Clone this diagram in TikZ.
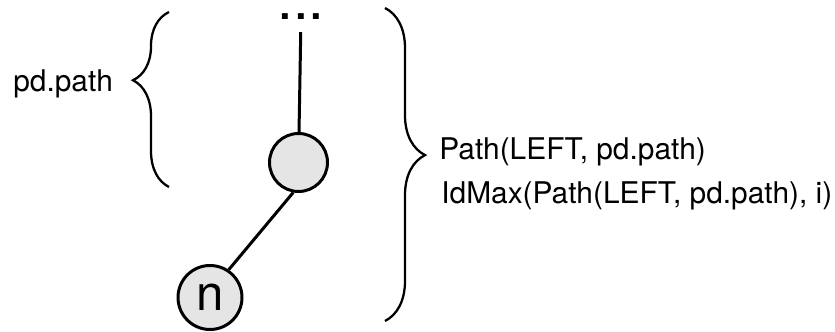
\documentclass[tikz,border=0pt]{standalone}
\usepackage{fontspec}
\setmainfont{TeX Gyre Heros}
\usepackage{tikz}
\usetikzlibrary{decorations.pathreplacing}

\begin{document}
\begin{tikzpicture}[scale=1,
		knot/.style={circle,draw,line width=1.7pt,fill=gray!20,inner sep=0pt},
		bracket/.style={decorate,decoration={brace,amplitude=#1},line width=1.3pt},
		label/.style={anchor=base west,inner sep=0pt,font=\fontsize{17}{20}\selectfont}]
				\useasboundingbox (0,0) rectangle (16.7,6.64);
				
				% the chain of nodes
				\node[inner sep=1pt,font=\fontsize{32}{34}\selectfont] (dots) at (6.02,6.30) {...};
				\node[knot,minimum size=1.16cm] (top) at (5.97,3.39) {};
				\node[knot,minimum size=1.28cm,font=\fontsize{28}{30}\selectfont] (n) at (4.20,0.69) {n};
				
				\draw[line width=1.7pt,shorten <=0.2cm] (dots) -- (top);
				\draw[line width=1.7pt] (top.260) -- (n.56);
				
				% braces
				\draw[bracket=0.72cm,decoration={mirror,aspect=0.39}] (3.38,6.40) -- (3.38,2.90);
				\draw[bracket=0.80cm,decoration={aspect=0.47}] (7.70,6.48) -- (7.70,0.22);
				
				\node[label] (pdpath) at (0.26,4.80) {pd.path};
				\node[label] (path) at (8.78,3.44) {Path(LEFT, pd.path)};
				\node[label] (idmax) at (8.82,2.56) {IdMax(Path(LEFT, pd.path), i)};
			\end{tikzpicture}
\end{document}
